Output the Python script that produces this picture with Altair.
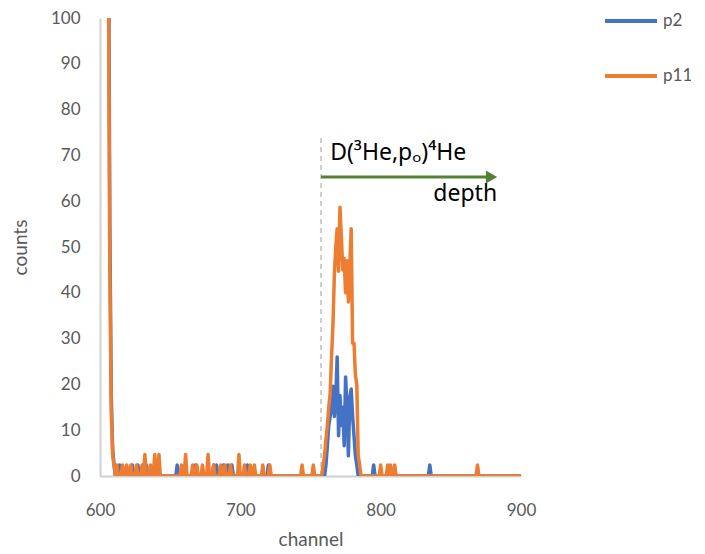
import altair as alt
import pandas as pd

# ---- data ----
channels = list(range(604, 901))

# non-zero counts per channel (all other channels are 0)
p2_counts = {
    604: 420, 605: 260, 606: 130, 607: 55, 608: 18, 609: 6, 610: 2.4,
    614: 2.4, 623: 2.4, 627: 2.4, 633: 2.4, 641: 2.4, 655: 2.4, 668: 2.4,
    681: 2.4, 683: 2.4, 688: 2.4, 691: 2.4, 694: 2.4, 705: 2.4, 720: 2.4,
    761: 2.4, 762: 6.6, 763: 11, 764: 13, 765: 15, 766: 19.6, 767: 13,
    768: 17, 769: 26, 770: 8.8, 771: 17.6, 772: 11, 773: 15, 774: 6.6,
    775: 21.6, 776: 15.4, 777: 4.4, 778: 17, 779: 19, 780: 13, 781: 8.8,
    782: 4.4, 783: 2.4, 795: 2.4, 835: 2.4,
}
p11_counts = {
    604: 420, 605: 230, 606: 110, 607: 45, 608: 14, 609: 4.7, 610: 2.4,
    612: 2.4, 616: 2.4, 619: 2.4, 622: 2.4, 626: 2.4, 630: 2.4, 632: 4.7,
    636: 2.4, 639: 4.7, 642: 4.7, 658: 2.4, 661: 4.7, 666: 2.4, 669: 2.4,
    673: 2.4, 677: 4.7, 681: 2.4, 686: 2.4, 689: 2.4, 693: 2.4, 699: 4.7,
    703: 2.4, 707: 2.4, 710: 2.4, 716: 2.4, 721: 2.4, 744: 2.4, 752: 2.4,
    759: 2.4, 760: 4.4, 761: 8, 762: 11, 763: 15, 764: 18, 765: 26,
    766: 33, 767: 44, 768: 50, 769: 54, 770: 44.7, 771: 58.7, 772: 52,
    773: 45, 774: 47.5, 775: 40, 776: 47, 777: 38, 778: 46, 779: 54,
    780: 29, 781: 29, 782: 22, 783: 20, 784: 4.4, 785: 2.4,
    800: 2.4, 805: 2.4, 807: 2.4, 810: 2.4, 869: 2.4,
}
p2_values = [p2_counts.get(c, 0) for c in channels]
p11_values = [p11_counts.get(c, 0) for c in channels]

series_names = ["p2", "p11"]
series_colors = ["#4472C4", "#ED7D31"]

x_ticks = [600, 700, 800, 900]
y_ticks = [0, 10, 20, 30, 40, 50, 60, 70, 80, 90, 100]

# annotation (data coordinates)
marker_channel = [757.5]
marker_top = [74]
arrow_x = [757.5]
arrow_x2 = [877]
arrow_head_x = [879]
arrow_y = [65.3]
reaction_text = ["D(³He,pₒ)⁴He"]
reaction_x = [764]
reaction_y = [69]
depth_text = ["depth"]
depth_x = [883]
depth_y = [61.5]

FONT = "Lato"
ANNOT_FONT = "Noto Sans"
GREY = "#595959"

df2 = pd.DataFrame({"channel": channels, "counts": p2_values, "series": "p2"})
df11 = pd.DataFrame({"channel": channels, "counts": p11_values, "series": "p11"})

x_scale = alt.Scale(domain=[600, 900], nice=False, zero=False)
y_scale = alt.Scale(domain=[0, 100], nice=False)
color_scale = alt.Scale(domain=series_names, range=series_colors)

x_enc = alt.X("channel:Q", scale=x_scale, title="channel",
              axis=alt.Axis(values=x_ticks, format="d", labelFlush=False))
y_enc = alt.Y("counts:Q", scale=y_scale, title="counts",
              axis=alt.Axis(values=y_ticks, labelFlush=False))

legend = alt.Legend(
    orient="none", legendX=503, legendY=-25, title=None,
    symbolType="stroke", symbolSize=2700, symbolStrokeWidth=4,
    labelFontSize=17, labelColor=GREY, labelFont=FONT, rowPadding=19,
    labelOffset=4,
)
color_enc = alt.Color("series:N", scale=color_scale, legend=legend)

line2 = alt.Chart(df2).mark_line(strokeWidth=3.5, clip=True, strokeJoin="round",
                                 strokeCap="round").encode(
    x=x_enc, y=y_enc, color=color_enc)
line11 = alt.Chart(df11).mark_line(strokeWidth=3.5, clip=True, strokeJoin="round",
                                   strokeCap="round").encode(
    x=x_enc, y=y_enc, color=color_enc)

marker_df = pd.DataFrame({"channel": marker_channel, "bottom": [0], "top": marker_top})
marker = alt.Chart(marker_df).mark_rule(color="#BFBFBF", strokeDash=[5, 4],
                                        strokeWidth=1.5).encode(
    x=alt.X("channel:Q", scale=x_scale),
    y=alt.Y("bottom:Q", scale=y_scale),
    y2=alt.Y2("top:Q"),
)

arrow_df = pd.DataFrame({"x": arrow_x, "x2": arrow_x2, "y": arrow_y,
                         "hx": arrow_head_x})
arrow = alt.Chart(arrow_df).mark_rule(color="#548235", strokeWidth=3).encode(
    x=alt.X("x:Q", scale=x_scale), x2="x2:Q",
    y=alt.Y("y:Q", scale=y_scale),
)
head = alt.Chart(arrow_df).mark_point(shape="triangle-right", filled=True,
                                      color="#548235", size=170, opacity=1).encode(
    x=alt.X("hx:Q", scale=x_scale),
    y=alt.Y("y:Q", scale=y_scale),
)

rx_df = pd.DataFrame({"x": reaction_x, "y": reaction_y, "t": reaction_text})
rx = alt.Chart(rx_df).mark_text(align="left", baseline="alphabetic", fontSize=23,
                                font=ANNOT_FONT, color="#000000").encode(
    x=alt.X("x:Q", scale=x_scale), y=alt.Y("y:Q", scale=y_scale), text="t:N")

dp_df = pd.DataFrame({"x": depth_x, "y": depth_y, "t": depth_text})
dp = alt.Chart(dp_df).mark_text(align="right", baseline="middle", fontSize=23,
                                font=ANNOT_FONT, color="#000000").encode(
    x=alt.X("x:Q", scale=x_scale), y=alt.Y("y:Q", scale=y_scale), text="t:N")

chart = alt.layer(marker, line2, line11, arrow, head, rx, dp).properties(
    width=421, height=458,
    autosize=alt.AutoSizeParams(type="none"),
    padding={"left": 92, "top": 10, "right": 170, "bottom": 76},
).configure_view(stroke=None).configure_axis(
    grid=False, ticks=False, domainColor="#D0D0D0", domainWidth=2,
    labelFont=FONT, labelFontSize=17, labelColor=GREY,
    titleFont=FONT, titleFontSize=19, titleColor=GREY, titleFontWeight="normal",
).configure_axisX(labelPadding=26, titlePadding=12).configure_axisY(
    labelPadding=20, titlePadding=20)

chart.save("out.html", embed_options={"renderer": "svg", "actions": False})
